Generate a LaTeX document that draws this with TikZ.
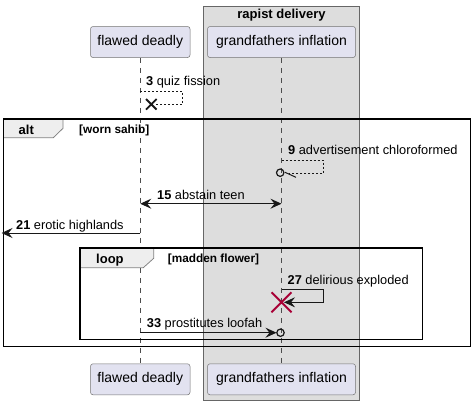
\documentclass[tikz,border=0pt]{standalone}
\usepackage{fontspec}
\setmainfont{Liberation Sans}
\usetikzlibrary{arrows.meta}
\definecolor{partfill}{HTML}{E2E2F0}
\definecolor{boxfill}{HTML}{DDDDDD}
\definecolor{tabfill}{HTML}{EEEEEE}
\definecolor{destroyc}{HTML}{A80036}
\definecolor{ink}{HTML}{181818}
\begin{document}
\begin{tikzpicture}[x=1pt,y=-1pt,
 part/.style={draw=black!55, fill=partfill, rounded corners=2.5pt, line width=0.5pt, minimum height=31pt, inner xsep=0pt, font=\fontsize{14}{16}\selectfont},
 life/.style={draw=black!70, line width=0.5pt, dash pattern=on 5pt off 5pt},
 msg/.style={draw=ink, line width=1pt},
 ret/.style={draw=ink, line width=0.8pt, dash pattern=on 2pt off 2pt},
 tip/.style={-{Stealth[length=11pt,width=10pt,inset=4pt]}},
 dtip/.style={{Stealth[length=11pt,width=10pt,inset=4pt]}-{Stealth[length=11pt,width=10pt,inset=4pt]}},
 mtext/.style={anchor=base west, inner sep=0pt, font=\fontsize{12.8}{15}\selectfont},
 frm/.style={draw=black, line width=1.5pt},
 tab/.style={draw=black!50, fill=tabfill, line width=0.75pt},
 ftitle/.style={anchor=base west, inner sep=0pt, font=\bfseries\fontsize{13}{15}\selectfont},
 guard/.style={anchor=base west, inner sep=0pt, font=\bfseries\fontsize{11.8}{13}\selectfont},
 circ/.style={draw=ink, line width=1.2pt, fill=none},
]
\useasboundingbox (0,0) rectangle (474,405);
\fill[white] (0,0) rectangle (474,405);
% box
\draw[draw=black!60, fill=boxfill, line width=0.6pt] (203.5,6) rectangle (359.5,400);
\node[anchor=base, font=\bfseries\fontsize{13}{15}\selectfont, inner sep=0pt] (boxtitle) at (281.5,18.7) {rapist delivery};
% participants
\node[part, minimum width=99.5pt] (fd) at (140.25,42) {flawed deadly};
\node[part, minimum width=148pt] (gi) at (281.5,42) {grandfathers inflation};
\node[part, minimum width=99.5pt] (fdb) at (140.25,379.3) {flawed deadly};
\node[part, minimum width=148pt] (gib) at (281.5,379.3) {grandfathers inflation};
\draw[life] (fd.south) -- (fdb.north);
\draw[life] (gi.south) -- (gib.north);
% alt frame
\draw[tab] (3.5,119) -- (63,119) -- (63,128.3) -- (53.3,137.7) -- (3.5,137.7) -- cycle;
\draw[frm] (3.5,119) rectangle (470.5,346.7);
\node[ftitle] (alt) at (18.5,134) {alt};
\node[guard] (g1) at (79,133.5) {[worn sahib]};
% loop frame
\draw[tab] (80,248) -- (153.7,248) -- (153.7,258.3) -- (143.3,267.7) -- (80,267.7) -- cycle;
\draw[frm] (80,248) rectangle (422.7,339.7);
\node[ftitle] (loop) at (96,263.3) {loop};
\node[guard] (g2) at (167.7,262.8) {[madden flower]};
% message 3
\coordinate (a3) at (140.25,91);
\coordinate (b3) at (182.3,91);
\coordinate (c3) at (182.3,104.3);
\coordinate (d3) at (156,104.3);
\draw[ret] (a3) -- (b3) -- (c3) -- (d3);
\draw[ink, line width=1.8pt] (146,99) -- (156.6,109.6) (146,109.6) -- (156.6,99);
\node[mtext] (m3) at (146,85.5) {\textbf{3} quiz fission};
% message 9
\coordinate (a9) at (281.5,160.3);
\coordinate (b9) at (323.3,160.3);
\coordinate (c9) at (323.3,173.3);
\coordinate (d9) at (289,173.3);
\draw[ret] (a9) -- (b9) -- (c9) -- (d9);
\draw[ink, line width=1pt] (285,172.3) -- (296,177.3);
\draw[circ] (280.2,172.7) circle (3.7);
\node[mtext] (m9) at (288,154.7) {\textbf{9} advertisement chloroformed};
% message 15
\coordinate (a15) at (140.25,203.7);
\coordinate (b15) at (281.5,203.7);
\draw[msg, dtip] (a15) -- (b15);
\node[mtext] (m15) at (157,199) {\textbf{15} abstain teen};
% message 21
\coordinate (a21) at (140.25,233);
\coordinate (b21) at (1.5,233);
\draw[msg, tip] (a21) -- (b21);
\node[mtext] (m21) at (16,229) {\textbf{21} erotic highlands};
% message 27
\coordinate (a27) at (281.5,289.3);
\coordinate (b27) at (323.3,289.3);
\coordinate (c27) at (323.3,302.3);
\coordinate (d27) at (284,302.3);
\draw[msg, tip] (a27) -- (b27) -- (c27) -- (d27);
\draw[destroyc, line width=2pt] (271.5,292.3) -- (291.5,312.3) (271.5,312.3) -- (291.5,292.3);
\node[mtext] (m27) at (287.5,284.7) {\textbf{27} delirious exploded};
% message 33
\coordinate (a33) at (140.25,332.7);
\coordinate (b33) at (276.5,332.7);
\draw[msg, tip] (a33) -- (b33);
\draw[circ] (280.5,332.7) circle (3.7);
\node[mtext] (m33) at (146.7,327.3) {\textbf{33} prostitutes loofah};
\end{tikzpicture}
\end{document}
